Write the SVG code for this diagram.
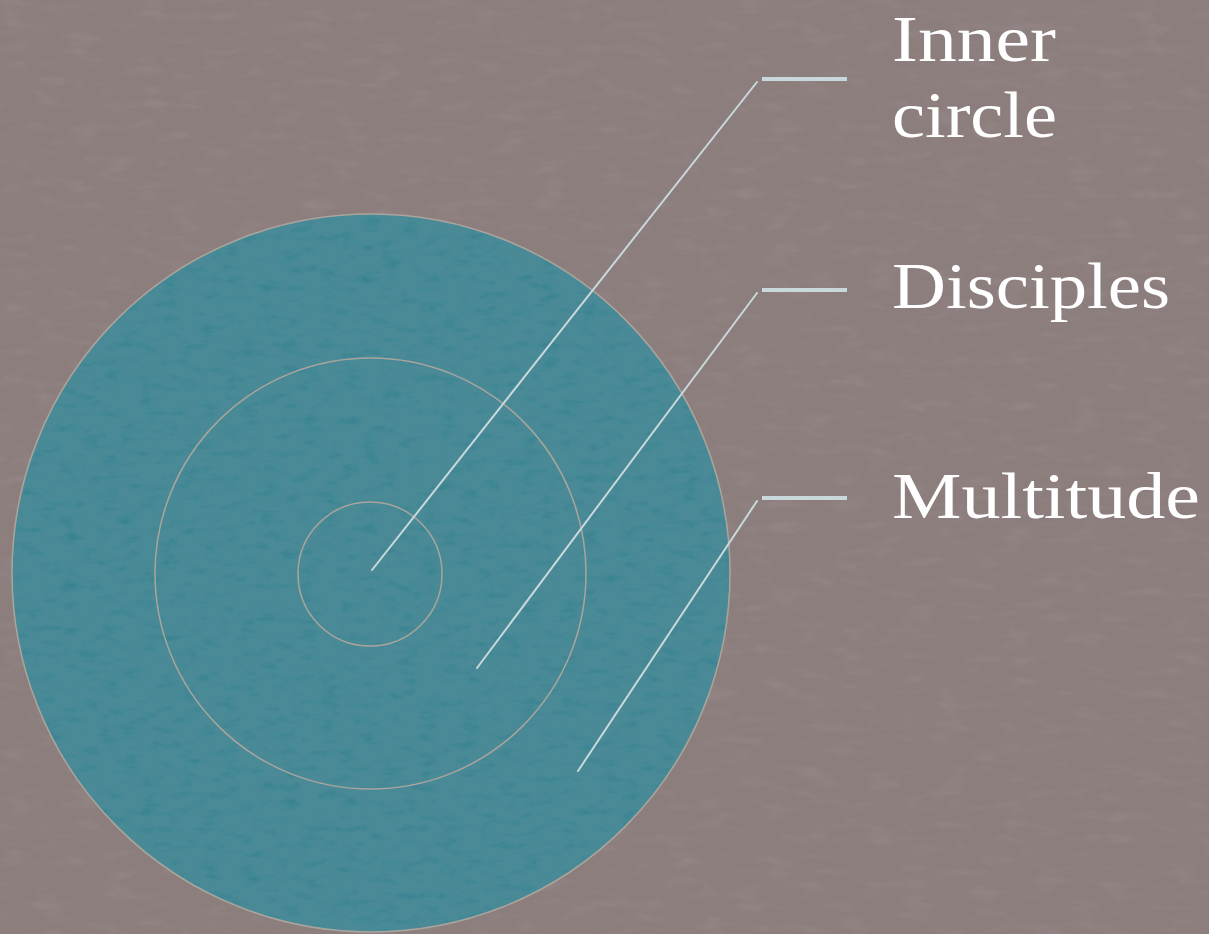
<svg xmlns="http://www.w3.org/2000/svg" width="1209" height="934" viewBox="0 0 1209 934">
  <style>
    .ring { fill: #4a8a97; stroke: #aaa59c; stroke-width: 1.5; }
    .leader { stroke: #c9d8db; stroke-width: 2; fill: none; stroke-linecap: round; }
    .tick { stroke: #c9d8db; stroke-width: 4; fill: none; }
    .label { font-family: "Liberation Serif", "Times New Roman", serif; font-size: 66px; fill: #ffffff; }
  </style>
  <defs>
    <filter id="grain" x="0" y="0" width="100%" height="100%">
      <feTurbulence type="fractalNoise" baseFrequency="0.05 0.12" numOctaves="3" seed="4" result="n"/>
      <feColorMatrix in="n" type="matrix" values="0 0 0 0 0.02  0 0 0 0 0.2  0 0 0 0 0.26  0 0 0 -1.6 0.75" result="m"/>
      <feComposite in="m" in2="SourceGraphic" operator="in"/>
    </filter>
    <filter id="bggrain" x="0" y="0" width="100%" height="100%">
      <feTurbulence type="fractalNoise" baseFrequency="0.03 0.09" numOctaves="3" seed="9" result="n"/>
      <feColorMatrix in="n" type="matrix" values="0 0 0 0 0.42  0 0 0 0 0.36  0 0 0 0 0.36  0 0 0 -1.4 0.7" result="m"/>
      <feComposite in="m" in2="SourceGraphic" operator="in"/>
    </filter>
  </defs>
  <rect width="1209" height="934" fill="#8d7e7e"/>
  <rect width="1209" height="934" fill="#8d7e7e" filter="url(#bggrain)" opacity="0.35"/>

  <g id="multitude">
    <circle class="ring" cx="371" cy="573" r="359"/>
    <circle cx="371" cy="573" r="358" fill="#4a8a97" filter="url(#grain)" opacity="0.85"/>
  </g>
  <g id="disciples">
    <circle class="ring" cx="370.5" cy="573.5" r="215.5"/>
    <circle cx="370.5" cy="573.5" r="214.5" fill="#4a8a97" filter="url(#grain)" opacity="0.85"/>
  </g>
  <g id="inner-circle">
    <circle class="ring" cx="370" cy="574" r="72"/>
    <circle cx="370" cy="574" r="71" fill="#4a8a97" filter="url(#grain)" opacity="0.85"/>
  </g>

  <g id="connectors">
    <line class="leader" x1="372" y1="570" x2="757" y2="82"/>
    <line class="tick" x1="762" y1="79" x2="847" y2="79"/>
    <line class="leader" x1="477" y1="668" x2="757" y2="293"/>
    <line class="tick" x1="762" y1="290" x2="847" y2="290"/>
    <line class="leader" x1="578" y1="771" x2="757" y2="501"/>
    <line class="tick" x1="762" y1="498" x2="847" y2="498"/>
  </g>

  <g id="label-inner-circle">
    <text class="label" x="892" y="61" textLength="164" lengthAdjust="spacingAndGlyphs">Inner</text>
    <text class="label" x="892" y="137" textLength="165" lengthAdjust="spacingAndGlyphs">circle</text>
  </g>
  <g id="label-disciples">
    <text class="label" x="892" y="308" textLength="278" lengthAdjust="spacingAndGlyphs">Disciples</text>
  </g>
  <g id="label-multitude">
    <text class="label" x="892" y="518" textLength="308" lengthAdjust="spacingAndGlyphs">Multitude</text>
  </g>
</svg>
